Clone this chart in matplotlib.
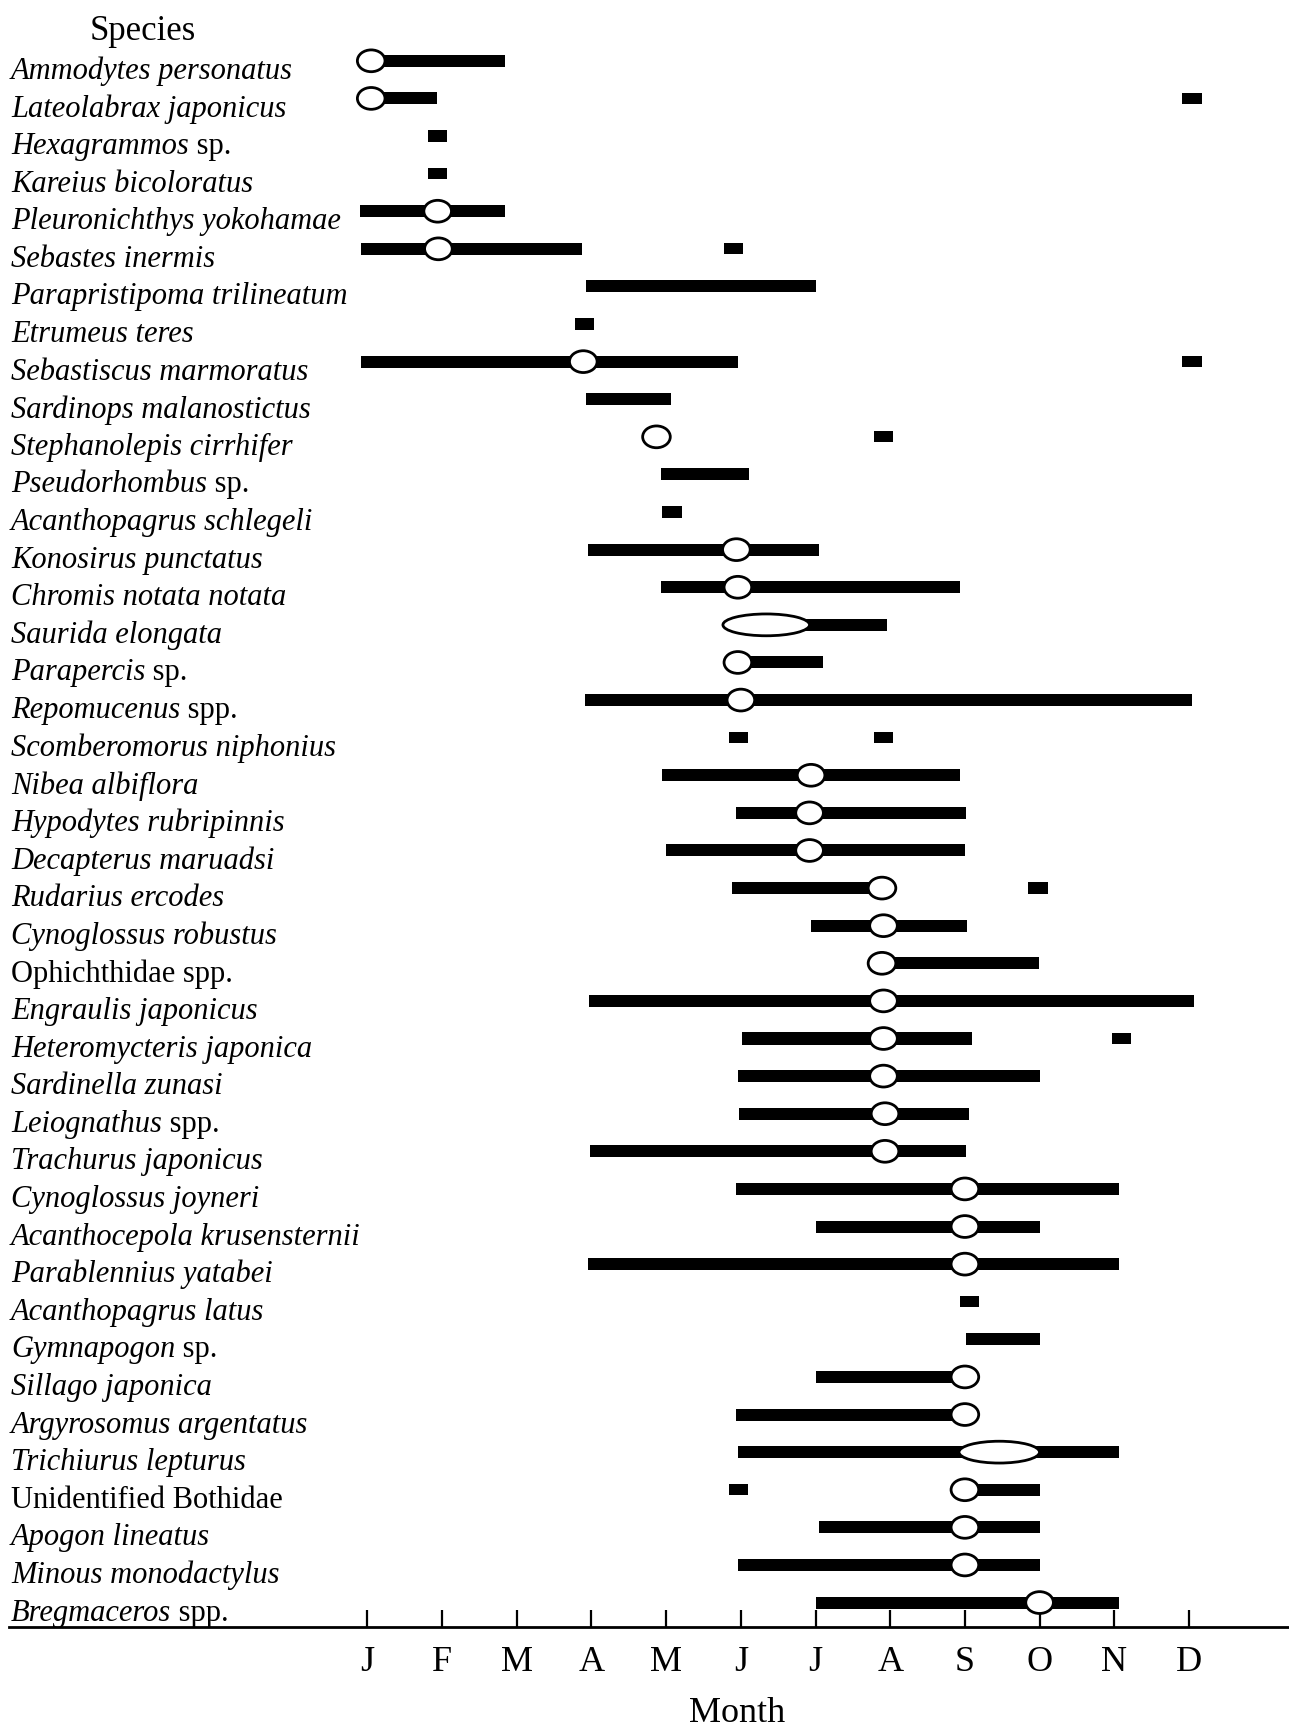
import matplotlib
matplotlib.use("Agg")
import matplotlib.pyplot as plt
from matplotlib.patches import Ellipse
from matplotlib.transforms import blended_transform_factory

plt.rcParams['font.family'] = ['Liberation Serif', 'DejaVu Serif']

# species names: italic part, upright part
names_it = ["Ammodytes personatus", "Lateolabrax japonicus", "Hexagrammos",
            "Kareius bicoloratus", "Pleuronichthys yokohamae", "Sebastes inermis",
            "Parapristipoma trilineatum", "Etrumeus teres", "Sebastiscus marmoratus",
            "Sardinops malanostictus", "Stephanolepis cirrhifer", "Pseudorhombus",
            "Acanthopagrus schlegeli", "Konosirus punctatus", "Chromis notata notata",
            "Saurida elongata", "Parapercis", "Repomucenus", "Scomberomorus niphonius",
            "Nibea albiflora", "Hypodytes rubripinnis", "Decapterus maruadsi",
            "Rudarius ercodes", "Cynoglossus robustus", "", "Engraulis japonicus",
            "Heteromycteris japonica", "Sardinella zunasi", "Leiognathus",
            "Trachurus japonicus", "Cynoglossus joyneri", "Acanthocepola krusensternii",
            "Parablennius yatabei", "Acanthopagrus latus", "Gymnapogon",
            "Sillago japonica", "Argyrosomus argentatus", "Trichiurus lepturus",
            "", "Apogon lineatus", "Minous monodactylus", "Bregmaceros"]
names_rm = ["", "", " sp.", "", "", "", "", "", "", "", "", " sp.", "", "", "", "",
            " sp.", " spp.", "", "", "", "", "", "", "Ophichthidae spp.", "", "", "",
            " spp.", "", "", "", "", "", " sp.", "", "", "", "Unidentified Bothidae",
            "", "", " spp."]

# occurrence periods in months (0 = Jan); start == end is a single month
ranges = [
    [(0.05, 1.84)],
    [(0.05, 0.93), (11.04, 11.04)],
    [(0.94, 0.94)],
    [(0.94, 0.94)],
    [(-0.10, 1.84)],
    [(-0.08, 2.87), (4.90, 4.90)],
    [(2.93, 6.01)],
    [(2.91, 2.91)],
    [(-0.08, 4.96), (11.04, 11.04)],
    [(2.93, 4.06)],
    [(6.91, 6.91)],
    [(3.93, 5.11)],
    [(4.08, 4.08)],
    [(2.95, 6.05)],
    [(3.93, 7.94)],
    [(5.34, 6.96)],
    [(4.96, 6.10)],
    [(2.91, 11.04)],
    [(4.97, 4.97), (6.91, 6.91)],
    [(3.95, 7.94)],
    [(4.94, 8.02)],
    [(4.00, 8.00)],
    [(4.88, 6.89), (8.98, 8.98)],
    [(5.94, 8.03)],
    [(6.89, 8.99)],
    [(2.97, 11.07)],
    [(5.02, 8.09), (10.10, 10.10)],
    [(4.96, 9.00)],
    [(4.97, 8.06)],
    [(2.98, 8.02)],
    [(4.93, 10.07)],
    [(6.00, 9.00)],
    [(2.95, 10.06)],
    [(8.06, 8.06)],
    [(8.02, 9.00)],
    [(6.00, 8.00)],
    [(4.93, 8.00)],
    [(4.96, 10.07)],
    [(4.97, 4.97), (8.00, 9.01)],
    [(6.04, 9.01)],
    [(4.96, 9.01)],
    [(6.01, 10.06)],
]

# peak period (open symbol), None = no peak
peak_lo = [0.05, 0.05, None, None, 0.94, 0.95, None, None, 2.89, None, 3.87, None,
           None, 4.94, 4.96, 4.76, 4.96, 5.0, None, 5.94, 5.92, 5.92, 6.89, 6.91,
           6.89, 6.91, 6.91, 6.91, 6.93, 6.93, 8.0, 8.0, 8.0, None, None, 8.0, 8.0,
           7.92, 8.0, 8.0, 8.0, 9.0]
peak_hi = [0.05, 0.05, None, None, 0.94, 0.95, None, None, 2.89, None, 3.87, None,
           None, 4.94, 4.96, 5.92, 4.96, 5.0, None, 5.94, 5.92, 5.92, 6.89, 6.91,
           6.89, 6.91, 6.91, 6.91, 6.93, 6.93, 8.0, 8.0, 8.0, None, None, 8.0, 8.0,
           9.00, 8.0, 8.0, 8.0, 9.0]

months = ["J", "F", "M", "A", "M", "J", "J", "A", "S", "O", "N", "D"]

fig = plt.figure(figsize=(12.89, 17.32), dpi=100)
ax = fig.add_axes([9 / 1289, 105 / 1732, 1280 / 1289, 1627 / 1732])
ax.set_xlim(-4.8, 12.34)
ax.set_ylim(41.65, -1.617)

for i, segs in enumerate(ranges):
    for a, b in segs:
        if a == b:
            ax.barh(i, 0.26, left=a - 0.13, height=0.30, color="black")
        else:
            ax.barh(i, b - a, left=a, height=0.32, color="black")
    if peak_lo[i] is not None:
        w = max(peak_hi[i] - peak_lo[i], 0.37)
        c = (peak_lo[i] + peak_hi[i]) / 2
        ax.add_patch(Ellipse((c, i), w, 0.58, facecolor="white",
                             edgecolor="black", lw=2, zorder=3))

trans = blended_transform_factory(fig.transFigure, ax.transData)
fs = 22
for i in range(len(names_it)):
    if names_it[i]:
        t = ax.text(11 / 1289, i + 0.28, names_it[i], transform=trans, fontsize=fs,
                    style="italic", va="center", ha="left")
        if names_rm[i]:
            ax.annotate(names_rm[i], xy=(1, 0), xycoords=t, fontsize=fs,
                        va="bottom", ha="left")
    else:
        ax.text(11 / 1289, i + 0.28, names_rm[i], transform=trans, fontsize=fs,
                va="center", ha="left")

ax.set_xticks(range(12))
ax.set_xticklabels(months, fontsize=26)
ax.tick_params(axis="x", direction="in", length=12, width=1.6, pad=14)
ax.set_yticks([])
for s in ["top", "left", "right"]:
    ax.spines[s].set_visible(False)
ax.spines["bottom"].set_linewidth(2)

fig.text(143 / 1289, 1 - 31 / 1732, "Species", ha="center", va="center", fontsize=25)
fig.text(737 / 1289, 1 - 1714 / 1732, "Month", ha="center", va="center", fontsize=26)

fig.savefig("out.png", dpi=100)
